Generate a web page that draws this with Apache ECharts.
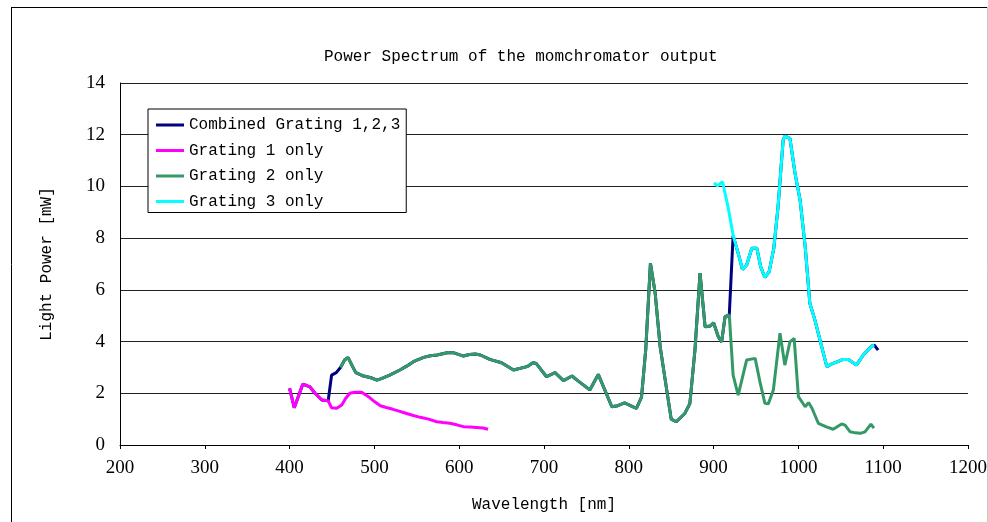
<!DOCTYPE html>
<html>
<head>
<meta charset="utf-8">
<script src="https://cdn.jsdelivr.net/npm/echarts@6/dist/echarts.min.js"></script>
<style>
html,body{margin:0;padding:0;background:#fff;}
#c{width:988px;height:522px;}
</style>
</head>
<body>
<div id="c"></div>
<script>
// Combined Grating 1,2,3
var wl0 = [400,405.5,415.5,420,424,430,438,445.5,449.5,455,460,465,469,474,478,486,496,503,509,518,530,538,546,558,566,574,587,593,605,612,619,625,636,650,664,680,687,691,703,713,723,733,739,754,764,780,787,795,809,815,820,825.5,831,837,843,850,856,866,872,878,884,890,896,900,905.5,909.5,913.5,918.5,923,929,934,939,945,951,955.5,960.5,965.5,971,976,982,984,990,996,1002,1008,1013.5,1019.5,1025.5,1033.5,1041,1053,1059,1068.5,1076.5,1086.5,1089.5,1094];
var g0  = [2.19,1.44,2.35,2.3,2.25,2.0,1.74,1.71,2.7,2.8,3.0,3.3,3.38,3.05,2.8,2.68,2.6,2.51,2.58,2.7,2.9,3.05,3.22,3.39,3.45,3.48,3.58,3.57,3.44,3.5,3.52,3.48,3.31,3.18,2.9,3.03,3.18,3.15,2.64,2.8,2.49,2.67,2.51,2.13,2.73,1.48,1.52,1.63,1.42,1.85,3.7,7.03,5.9,3.8,2.5,1.0,0.9,1.22,1.6,3.67,6.65,4.57,4.6,4.73,4.19,3.99,4.96,5.03,8.1,7.41,6.79,6.96,7.61,7.61,6.9,6.48,6.7,7.61,9.21,11.79,11.95,11.86,10.51,9.47,7.67,5.48,4.83,4.06,3.03,3.16,3.31,3.31,3.09,3.48,3.83,3.86,3.67];

// Grating 1 only
var wl1 = [400,405.5,410,415.5,420,424,430,438,445.5,449.5,455.5,461.5,466,471,477,485,493,500,507,514,522,530,538,546,554,564,573.5,581,589,597,605,613,620.5,628,634];
var g1  = [2.19,1.44,1.85,2.35,2.3,2.25,2.0,1.74,1.71,1.44,1.42,1.55,1.8,2.0,2.04,2.04,1.87,1.68,1.52,1.45,1.38,1.3,1.22,1.14,1.07,1.0,0.9,0.87,0.84,0.78,0.71,0.7,0.68,0.66,0.61];

// Grating 2 only
var wl2 = [460,465,469,474,478,486,496,503,509,518,530,538,546,558,566,574,587,593,605,612,619,625,636,650,664,680,687,691,703,713,723,733,739,754,764,780,787,795,809,815,820,825.5,831,837,843,850,856,866,872,878,884,890,896,900,905.5,909.5,913.5,918.5,923,929,939,949,955,960.5,964.5,970.5,975,978.3,984,990,995,1000,1008,1012,1016,1023.5,1033,1041,1051,1055,1061,1067,1073,1078.5,1085.5,1089];
var g2  = [3.0,3.3,3.38,3.05,2.8,2.68,2.6,2.51,2.58,2.7,2.9,3.05,3.22,3.39,3.45,3.48,3.58,3.57,3.44,3.5,3.52,3.48,3.31,3.18,2.9,3.03,3.18,3.15,2.64,2.8,2.49,2.67,2.51,2.13,2.73,1.48,1.52,1.63,1.42,1.85,3.7,7.03,5.9,3.8,2.5,1.0,0.9,1.22,1.6,3.67,6.65,4.57,4.6,4.73,4.19,3.99,4.96,5.03,2.7,1.93,3.29,3.35,2.39,1.61,1.59,2.13,3.4,4.32,3.09,3.99,4.12,1.87,1.48,1.64,1.42,0.84,0.7,0.61,0.81,0.77,0.51,0.47,0.45,0.51,0.81,0.65];

// Grating 3 only
var wl3 = [900.5,904.5,910.5,917,923,929,934,939,945,951,955.5,960.5,965.5,971,976,982,984,990,996,1002,1008,1013.5,1019.5,1025.5,1033.5,1041,1053,1059,1068.5,1076.5,1086.5,1089.5];
var g3  = [10.14,10.02,10.18,9.21,8.12,7.41,6.79,6.96,7.61,7.61,6.9,6.48,6.7,7.61,9.21,11.79,11.95,11.86,10.51,9.47,7.67,5.48,4.83,4.06,3.03,3.16,3.31,3.31,3.09,3.48,3.83,3.86];

var seriesNames = ['Combined Grating 1,2,3','Grating 1 only','Grating 2 only','Grating 3 only'];
var yTicks = [0,2,4,6,8,10,12,14];
var xTicks = [200,300,400,500,600,700,800,900,1000,1100,1200];

function pairs(xs, ys){ return xs.map(function(x,i){ return [x, ys[i]]; }); }

var colors = ['#000080','#FF00FF','#339966','#00FFFF'];
var datasets = [pairs(wl0,g0), pairs(wl1,g1), pairs(wl2,g2), pairs(wl3,g3)];

var chart = echarts.init(document.getElementById('c'), null, {renderer:'canvas'});
var mono = 'Liberation Mono';
chart.setOption({
  animation: false,
  backgroundColor: '#fff',
  title: {
    text: 'Power Spectrum of the momchromator output',
    left: 319, top: 44,
    textStyle: {fontFamily: mono, fontSize: 16, fontWeight: 'normal', color: '#000'}
  },
  legend: {
    orient: 'vertical',
    left: 148, top: 109,
    data: seriesNames.map(function(n){ return {name:n, icon:'rect'}; }),
    itemWidth: 28, itemHeight: 3, itemGap: 9.5,
    padding: [8, 6, 3, 8],
    backgroundColor: '#fff',
    borderColor: '#000', borderWidth: 1, borderRadius: 0,
    textStyle: {fontFamily: mono, fontSize: 16, color: '#000'}
  },
  grid: {left: 120, right: 20, top: 83, bottom: 77, containLabel: false, outerBoundsMode: 'none'},
  xAxis: {
    type: 'value', min: xTicks[0], max: xTicks[xTicks.length-1], interval: 100,
    name: 'Wavelength [nm]', nameLocation: 'middle', nameGap: 52,
    nameTextStyle: {fontFamily: mono, fontSize: 16, color: '#000'},
    axisLine: {show: true, lineStyle: {color: '#000', width: 1}},
    axisTick: {show: true, length: 4, lineStyle: {color: '#000'}},
    axisLabel: {fontFamily: 'Liberation Serif', fontSize: 19, color: '#000', margin: 14,
      formatter: function(v){ return String(v); }},
    splitLine: {show: false}
  },
  yAxis: {
    type: 'value', min: yTicks[0], max: yTicks[yTicks.length-1], interval: 2,
    name: 'Light Power [mW]', nameLocation: 'middle', nameGap: 65,
    nameTextStyle: {fontFamily: mono, fontSize: 16, color: '#000'},
    axisLine: {show: true, lineStyle: {color: '#000', width: 1}},
    axisTick: {show: false},
    axisLabel: {fontFamily: 'Liberation Serif', fontSize: 19, color: '#000', margin: 15,
      formatter: function(v){ return String(v); }},
    splitLine: {show: true, lineStyle: {color: '#222', width: 1}}
  },
  graphic: [
    {type:'line', shape:{x1:11, y1:7.5, x2:987, y2:7.5}, style:{stroke:'#000', lineWidth:1}},
    {type:'line', shape:{x1:11.5, y1:7, x2:11.5, y2:522}, style:{stroke:'#000', lineWidth:1}},
    {type:'line', shape:{x1:987.5, y1:7, x2:987.5, y2:522}, style:{stroke:'#c8c8c8', lineWidth:1}}
  ],
  series: seriesNames.map(function(n, i){
    return {
      name: n, type: 'line', data: datasets[i],
      showSymbol: false, symbol: 'none',
      itemStyle: {color: colors[i]},
      lineStyle: {color: colors[i], width: 3},
      z: 2 + i
    };
  })
});
</script>
</body>
</html>
